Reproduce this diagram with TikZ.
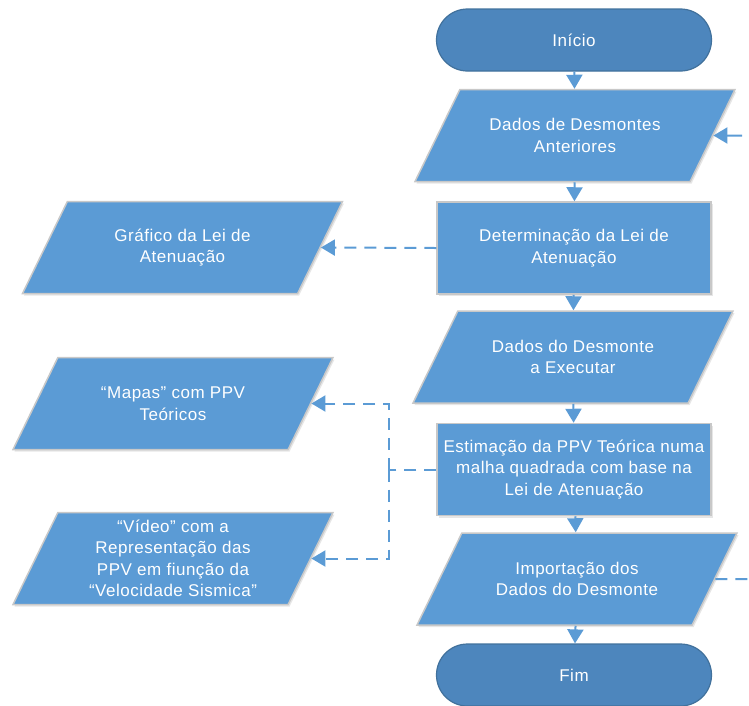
\documentclass[tikz,border=0pt]{standalone}
\usepackage{fontspec}
\setmainfont{Liberation Sans}
\usetikzlibrary{shapes.geometric,shapes.misc,arrows.meta,shadows}
\definecolor{fluxo}{HTML}{5B9BD5}
\definecolor{terminal}{HTML}{4D86BD}
\definecolor{terminalborda}{HTML}{41719C}
\definecolor{borda}{HTML}{C8C8C8}
\newcommand{\caixa}[1]{\parbox[c][92pt][c]{200pt}{\centering #1}}
\begin{document}
\begin{tikzpicture}[x=1pt,y=-1pt,
		every node/.style={text=white,font=\fontsize{17}{21.5}\selectfont\addfontfeature{LetterSpace=3},align=center,inner sep=0pt},
		terminador/.style={rounded rectangle,draw=terminalborda,line width=1.2pt,fill=terminal,minimum width=275pt,minimum height=62pt},
		processo/.style={rectangle,draw=borda,line width=1.5pt,fill=fluxo,minimum width=274pt,minimum height=92pt,
			drop shadow={opacity=0.2,shadow xshift=1.5pt,shadow yshift=-2pt}},
		dados/.style={trapezium,trapezium left angle=64,trapezium right angle=116,trapezium stretches body,
			draw=borda,line width=1.5pt,fill=fluxo,minimum width=320pt,
			drop shadow={opacity=0.2,shadow xshift=1.5pt,shadow yshift=-2pt}},
		seta/.style={draw=fluxo,line width=2pt,-{Triangle[length=14pt,width=16pt]}},
		ligacao/.style={draw=fluxo,line width=2pt,dash pattern=on 12pt off 8pt},
		ligseta/.style={ligacao,-{Triangle[length=14pt,width=16pt]}}
		]
		\useasboundingbox (0,0) rectangle (749,705);
		
		\node[terminador] (inicio) at (574,40) {Início};
		\node[dados] (anteriores) at (575,135.5) {\caixa{Dados de Desmontes\\Anteriores}};
		\node[processo] (lei) at (574,248) {Determinação da Lei de\\Atenuação};
		\node[dados] (executar) at (573,357) {\caixa{Dados do Desmonte\\a Executar}};
		\node[processo] (estimacao) at (574,469.5) {Estimação da PPV Teórica numa\\malha quadrada com base na\\Lei de Atenuação};
		\node[dados] (importacao) at (577,579) {\caixa{Importação dos\\Dados do Desmonte}};
		\node[terminador] (fim) at (574,675) {Fim};
		
		\node[dados] (grafico) at (182.5,247.5) {\caixa{Gráfico da Lei de\\Atenuação}};
		\node[dados] (mapas) at (173,403.5) {\caixa{“Mapas” com PPV\\Teóricos}};
		\node[dados] (video) at (173,558.5) {\caixa{“Vídeo” com a\\Representação das\\PPV em fiunção da\\“Velocidade Sismica”}};
		
		\coordinate (entrada) at (742,135.5);
		\coordinate (saida) at (749,579);
		\coordinate (divisao) at (389,469.5);
		
		\draw[seta] (inicio) -- (anteriores);
		\draw[seta] (anteriores) -- (lei);
		\draw[seta] (lei) -- (executar);
		\draw[seta] (executar) -- (estimacao);
		\draw[seta] (estimacao) -- (importacao);
		\draw[seta] (importacao) -- (fim);
		\draw[seta] (entrada) -- (anteriores.east);
		
		\draw[ligseta] (lei.west) -- (grafico.east);
		\draw[ligacao] (estimacao.west) -- (divisao);
		\draw[ligseta] (divisao) |- (mapas.east);
		\draw[ligseta] (divisao) |- (video.east);
		\draw[ligacao] (importacao.east) -- (saida);
\end{tikzpicture}
\end{document}
